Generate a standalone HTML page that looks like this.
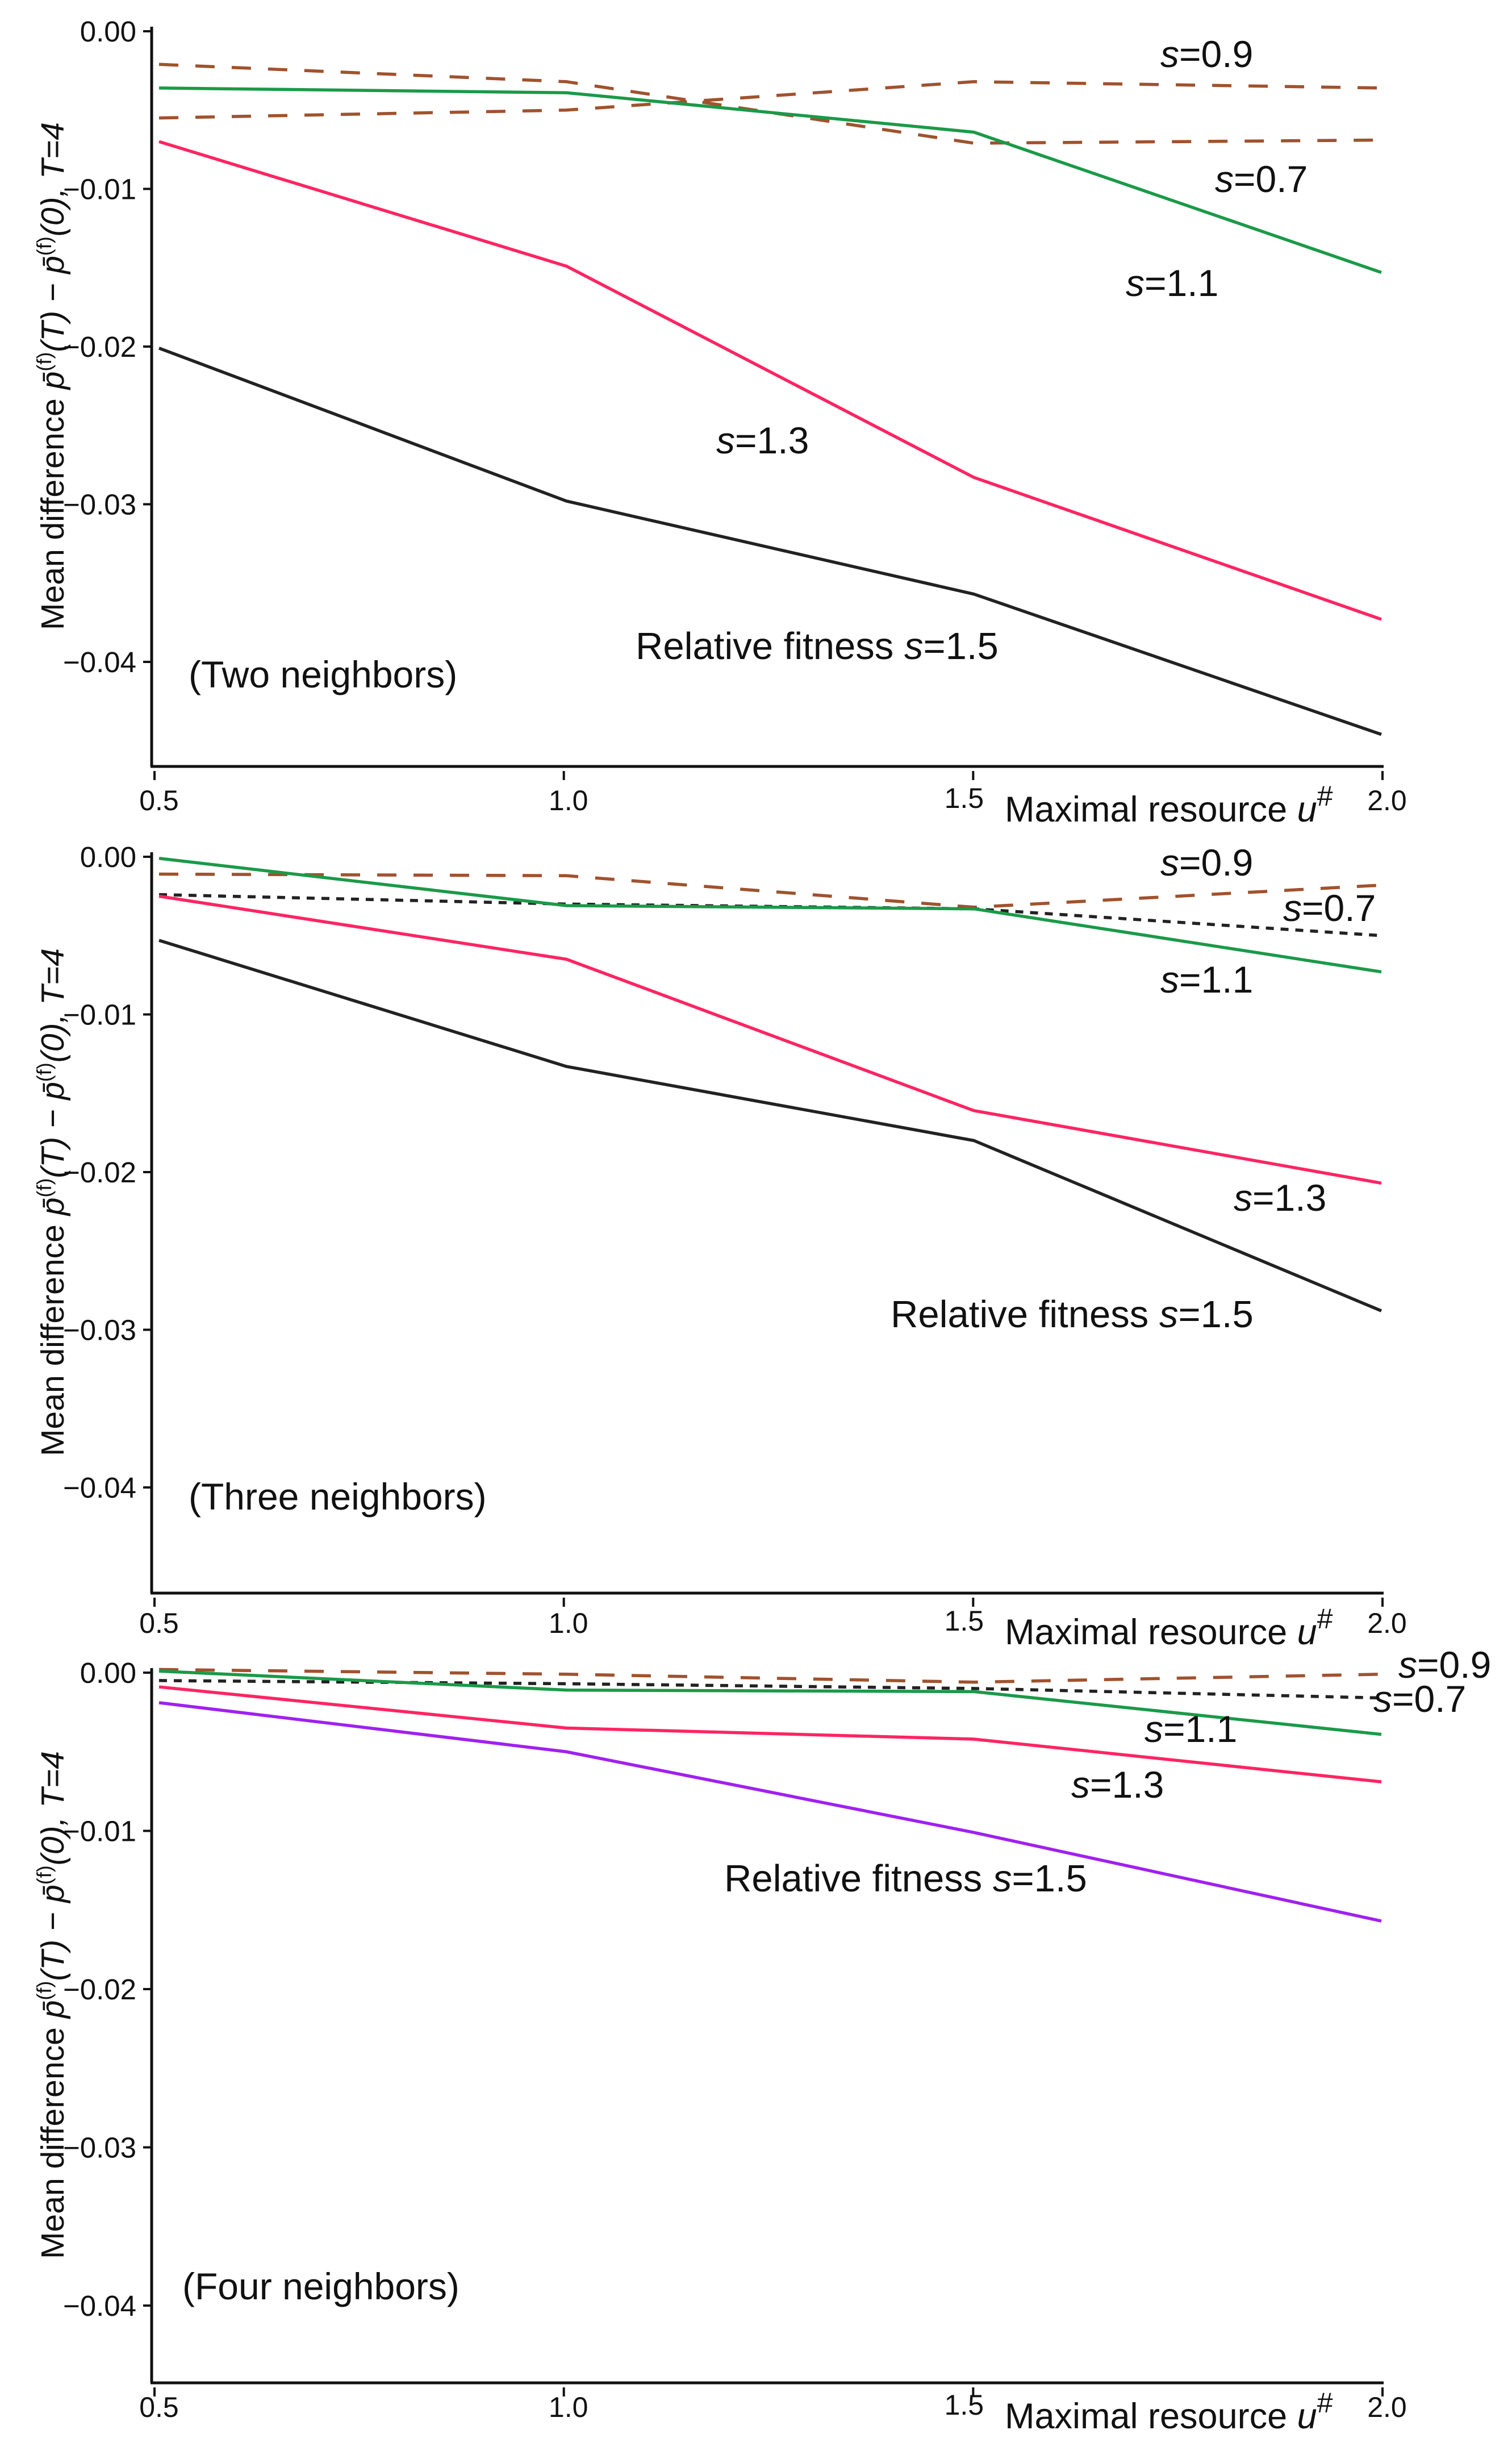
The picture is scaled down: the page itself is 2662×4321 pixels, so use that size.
<!DOCTYPE html>
<html><head><meta charset="utf-8">
<style>
html,body{margin:0;padding:0;background:#fff;}
svg{display:block;}
text{font-family:"Liberation Sans",sans-serif;fill:#111;}
</style></head>
<body>
<svg id="chart" width="2662" height="4321" viewBox="0 0 2662 4321" xmlns="http://www.w3.org/2000/svg"></svg>
<script>
// ---- data ----
const xCategories = [0.5, 1.0, 1.5, 2.0];
const xTickLabels = ["0.5", "1.0", "1.5", "2.0"];
const yTickValues = [0, -0.01, -0.02, -0.03, -0.04];
const yTickLabels = ["0.00", "\u22120.01", "\u22120.02", "\u22120.03", "\u22120.04"];

// Panel 1: two neighbors
const p1_s15 = [-0.0201, -0.0298, -0.0357, -0.0446];
const p1_s13 = [-0.0070, -0.0149, -0.0283, -0.0373];
const p1_s11 = [-0.0036, -0.0039, -0.0064, -0.0153];
const p1_s09 = [-0.0055, -0.0050, -0.0032, -0.0036];
const p1_s07 = [-0.0021, -0.0032, -0.0071, -0.0069];

// Panel 2: three neighbors
const p2_s15 = [-0.0053, -0.0133, -0.0180, -0.0288];
const p2_s13 = [-0.0025, -0.0065, -0.0161, -0.0207];
const p2_s11 = [-0.0001, -0.0031, -0.0033, -0.0073];
const p2_s09 = [-0.0011, -0.0012, -0.0032, -0.0018];
const p2_s07 = [-0.0024, -0.0030, -0.0033, -0.0050];

// Panel 3: four neighbors
const p3_s15 = [-0.0019, -0.0050, -0.0101, -0.0157];
const p3_s13 = [-0.0009, -0.0035, -0.0042, -0.0069];
const p3_s11 = [0.0001, -0.0011, -0.0012, -0.0039];
const p3_s09 = [0.0002, -0.0001, -0.0006, -0.0001];
const p3_s07 = [-0.0005, -0.0007, -0.0010, -0.0016];

const NS = "http://www.w3.org/2000/svg";
const svg = document.getElementById("chart");

function mk(tag, attrs, parent) {
  const e = document.createElementNS(NS, tag);
  for (const k in attrs) e.setAttribute(k, attrs[k]);
  (parent || svg).appendChild(e);
  return e;
}

const panels = [
  {id:"two", y0:55, unit:277.5, axisY:1349, label:"(Two neighbors)", labelPos:[332,1210],
   series:[
     {d:p1_s09, color:"#a0522d", dash:"34 30", name:"s09"},
     {d:p1_s07, color:"#a0522d", dash:"34 30", name:"s07"},
     {d:p1_s11, color:"#1a9a48", dash:"", name:"s11"},
     {d:p1_s13, color:"#ff2462", dash:"", name:"s13"},
     {d:p1_s15, color:"#222222", dash:"", name:"s15"}],
   texts:[["0.9",2043,118],["0.7",2139,338],["1.1",1982,521],["1.3",1261,798]],
   rel:[1119,1160], xlabY:1420, xtitY:1442},
  {id:"three", y0:1508, unit:277.5, axisY:2804, label:"(Three neighbors)", labelPos:[332,2657],
   series:[
     {d:p2_s09, color:"#a0522d", dash:"34 30", name:"s09"},
     {d:p2_s07, color:"#222222", dash:"14 12", name:"s07"},
     {d:p2_s11, color:"#1a9a48", dash:"", name:"s11"},
     {d:p2_s13, color:"#ff2462", dash:"", name:"s13"},
     {d:p2_s15, color:"#222222", dash:"", name:"s15"}],
   texts:[["0.9",2043,1541],["0.7",2259,1621],["1.1",2043,1747],["1.3",2172,2131]],
   rel:[1568,2336], xlabY:2868, xtitY:2890},
  {id:"four", y0:2944, unit:278.5, axisY:4194, label:"(Four neighbors)", labelPos:[321,4047],
   series:[
     {d:p3_s09, color:"#a0522d", dash:"34 30", name:"s09"},
     {d:p3_s07, color:"#222222", dash:"14 12", name:"s07"},
     {d:p3_s11, color:"#1a9a48", dash:"", name:"s11"},
     {d:p3_s13, color:"#ff2462", dash:"", name:"s13"},
     {d:p3_s15, color:"#a020f0", dash:"", name:"s15"}],
   texts:[["0.9",2462,2953],["0.7",2418,3013],["1.1",2015,3066],["1.3",1886,3164]],
   rel:[1275,3329], xlabY:4248, xtitY:4270}
];

const axisX = 267, tickX0 = 272, tickX1 = 2434;
function xTick(v){ return tickX0 + (v - 0.5) / 1.5 * (tickX1 - tickX0); }
function xData(v){ return 280 + (v - 0.5) / 1.5 * (2432 - 280); }

panels.forEach(function(p){
  const g = mk("g", {});
  
  
  function yS(v){ return p.y0 - v / 0.01 * p.unit; }
  const top = p.y0 - 8;

  const ya = mk("line", {x1:axisX, y1:top, x2:axisX, y2:p.axisY, stroke:"#111", "stroke-width":5}, g);
  
  
  const xa = mk("line", {x1:axisX-2, y1:p.axisY, x2:tickX1+2, y2:p.axisY, stroke:"#111", "stroke-width":5}, g);
  
  

  yTickValues.forEach(function(v, i){
    const y = yS(v);
    const t = mk("line", {x1:252, y1:y, x2:axisX, y2:y, stroke:"#111", "stroke-width":4}, g);
    
    
    const tl = mk("text", {x:240, y:y+18, "text-anchor":"end", "font-size":51}, g);
    tl.textContent = yTickLabels[i];
    
    
  });

  xCategories.forEach(function(v, i){
    const x = xTick(v);
    const t = mk("line", {x1:x, y1:p.axisY+8, x2:x, y2:p.axisY+24, stroke:"#111", "stroke-width":4}, g);
    
    
    const tl = mk("text", {x:x+8 - (i===2?24:0), y:p.xlabY + 6 - (i===2?4:0), "text-anchor":"middle", "font-size":50}, g);
    tl.textContent = xTickLabels[i];
    
    
  });

  const xt = mk("text", {x:1769, y:p.xtitY + 4, "font-size":63}, g);
  
  
  xt.appendChild(document.createTextNode("Maximal resource "));
  const u = mk("tspan", {"font-style":"italic"}, xt); u.textContent = "u";
  const hs = mk("tspan", {dy:-28, "font-size":50}, xt); hs.textContent = "#";

  const cy = (p.y0 + p.axisY) / 2 - 40;
  const yt = mk("text", {x:0, y:0, "text-anchor":"middle", "font-size":57,
      transform:"translate(112," + cy + ") rotate(-90)"}, g);
  
  
  yt.appendChild(document.createTextNode("Mean difference "));
  const pb = mk("tspan", {"font-style":"italic"}, yt); pb.textContent = "p\u0304";
  const sf = mk("tspan", {dy:-22, "font-size":36}, yt); sf.textContent = "(f)";
  const r1 = mk("tspan", {dy:22, "font-style":"italic"}, yt); r1.textContent = "(T)";
  const r2 = mk("tspan", {}, yt); r2.textContent = " \u2212 ";
  const pb2 = mk("tspan", {"font-style":"italic"}, yt); pb2.textContent = "p\u0304";
  const sf2 = mk("tspan", {dy:-22, "font-size":36}, yt); sf2.textContent = "(f)";
  const r3 = mk("tspan", {dy:22, "font-style":"italic"}, yt); r3.textContent = "(0),  T=4";

  p.series.forEach(function(s){
    const pts = s.d.map(function(v, i){ return xData(xCategories[i]) + "," + yS(v); }).join(" ");
    const pl = mk("polyline", {points:pts, fill:"none", stroke:s.color, "stroke-width":5.5,
      "stroke-linejoin":"round"}, g);
    if (s.dash) pl.setAttribute("stroke-dasharray", s.dash);
    
    
  });

  p.texts.forEach(function(t){
    const tx = mk("text", {x:t[1], y:t[2], "font-size":66}, g);
    
    
    const si = mk("tspan", {"font-style":"italic"}, tx); si.textContent = "s";
    const sv = mk("tspan", {}, tx); sv.textContent = "=" + t[0];
  });
  const rl = mk("text", {x:p.rel[0], y:p.rel[1], "font-size":67}, g);
  
  
  rl.appendChild(document.createTextNode("Relative fitness "));
  const rs = mk("tspan", {"font-style":"italic"}, rl); rs.textContent = "s";
  rl.appendChild(document.createTextNode("=1.5"));

  const pn = mk("text", {x:p.labelPos[0], y:p.labelPos[1], "font-size":66}, g);
  pn.textContent = p.label;
  
  
});
</script>
</body></html>
